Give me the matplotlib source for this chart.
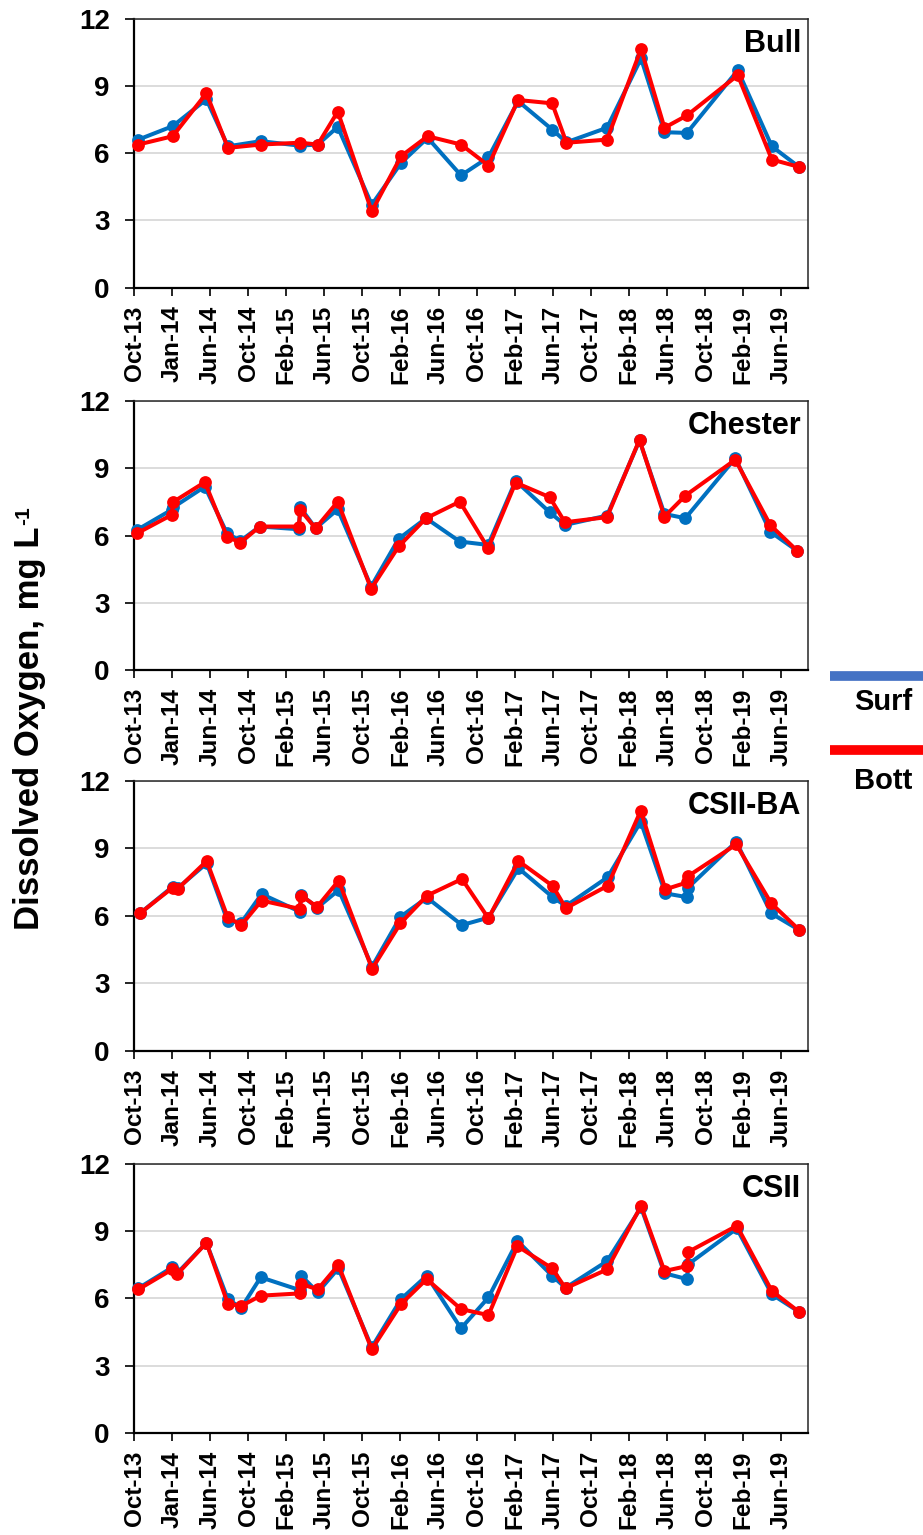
import matplotlib
matplotlib.use("Agg")
import matplotlib.pyplot as plt
import matplotlib.dates as mdates
from matplotlib.lines import Line2D
import pandas as pd

plt.rcParams['font.family'] = ['Liberation Sans', 'DejaVu Sans']
plt.rcParams['font.weight'] = 'bold'

# ---- data: dissolved oxygen (mg/L), surface and bottom, per station ----
bull_dates = ['2013-10-15', '2014-02-02', '2014-05-21', '2014-07-29', '2014-11-11',
              '2015-03-16', '2015-05-13', '2015-07-16', '2015-11-02', '2016-02-04',
              '2016-04-29', '2016-08-14', '2016-11-10', '2017-02-13', '2017-06-02',
              '2017-07-18', '2017-11-25', '2018-03-14', '2018-05-28', '2018-08-08',
              '2019-01-18', '2019-05-07', '2019-08-02']
bull_surf = [6.61, 7.21, 8.41, 6.31, 6.54, 6.34, 6.39, 7.18, 3.70, 5.57, 6.69, 5.01,
             5.82, 8.33, 7.06, 6.49, 7.14, 10.24, 6.94, 6.91, 9.71, 6.31, 5.39]
bull_bott = [6.39, 6.76, 8.68, 6.24, 6.39, 6.47, 6.39, 7.86, 3.40, 5.87, 6.76, 6.39,
             5.45, 8.38, 8.23, 6.47, 6.61, 10.66, 7.14, 7.69, 9.49, 5.72, 5.39]

chester_dates = ['2013-10-11', '2014-01-30', '2014-02-03', '2014-05-16', '2014-07-26',
                 '2014-09-07', '2014-11-08', '2015-03-13', '2015-03-18', '2015-05-06',
                 '2015-07-16', '2015-10-31', '2016-01-27', '2016-04-24', '2016-08-10',
                 '2016-11-09', '2017-02-05', '2017-05-25', '2017-07-13', '2017-11-25',
                 '2018-03-09', '2018-05-28', '2018-08-03', '2019-01-10', '2019-05-02',
                 '2019-07-28']
chester_surf = [6.25, 7.15, 7.25, 8.18, 6.10, 5.76, 6.40, 6.28, 7.25, 6.32, 7.17, 3.72,
                5.85, 6.77, 5.73, 5.58, 8.44, 7.04, 6.47, 6.89, 10.24, 6.96, 6.77, 9.45,
                6.17, 5.31]
chester_bott = [6.10, 6.92, 7.49, 8.38, 5.95, 5.68, 6.40, 6.40, 7.14, 6.32, 7.51, 3.62,
                5.51, 6.77, 7.51, 5.43, 8.36, 7.71, 6.59, 6.82, 10.27, 6.84, 7.78, 9.38,
                6.47, 5.31]

csiiba_dates = ['2013-10-20', '2014-02-02', '2014-02-18', '2014-05-22', '2014-07-28',
                '2014-09-10', '2014-11-14', '2015-03-16', '2015-03-21', '2015-05-11',
                '2015-07-19', '2015-11-03', '2016-02-02', '2016-04-27', '2016-08-17',
                '2016-11-10', '2017-02-14', '2017-06-04', '2017-07-16', '2017-11-27',
                '2018-03-13', '2018-05-31', '2018-08-09', '2018-08-12', '2019-01-13',
                '2019-05-05', '2019-08-03']
csiiba_surf = [6.11, 7.30, 7.23, 8.34, 5.77, 5.70, 6.97, 6.19, 6.93, 6.36, 7.15, 3.74,
               5.96, 6.81, 5.59, 5.92, 8.12, 6.83, 6.44, 7.72, 10.19, 7.00, 6.83, 7.26,
               9.30, 6.11, 5.37]
csiiba_bott = [6.11, 7.26, 7.20, 8.44, 5.94, 5.59, 6.68, 6.31, 6.90, 6.40, 7.57, 3.64,
               5.67, 6.90, 7.64, 5.89, 8.44, 7.33, 6.34, 7.34, 10.68, 7.18, 7.49, 7.77,
               9.18, 6.56, 5.37]

csii_dates = ['2013-10-15', '2014-01-31', '2014-02-16', '2014-05-21', '2014-07-29',
              '2014-09-10', '2014-11-11', '2015-03-16', '2015-03-21', '2015-05-13',
              '2015-07-18', '2015-11-02', '2016-02-04', '2016-04-26', '2016-08-14',
              '2016-11-10', '2017-02-11', '2017-06-02', '2017-07-15', '2017-11-25',
              '2018-03-14', '2018-05-28', '2018-08-08', '2018-08-13', '2019-01-15',
              '2019-05-07', '2019-08-02']
csii_surf = [6.45, 7.38, 7.12, 8.48, 5.95, 5.58, 6.94, 6.37, 7.01, 6.27, 7.34, 3.81,
             5.97, 7.01, 4.66, 6.04, 8.56, 7.01, 6.47, 7.66, 10.06, 7.12, 6.86, 7.53,
             9.12, 6.18, 5.40]
csii_bott = [6.40, 7.29, 7.07, 8.48, 5.75, 5.66, 6.12, 6.22, 6.64, 6.40, 7.49, 3.72,
             5.75, 6.86, 5.52, 5.25, 8.33, 7.34, 6.45, 7.29, 10.13, 7.22, 7.44, 8.08,
             9.24, 6.33, 5.40]

station_names = ['Bull', 'Chester', 'CSII-BA', 'CSII']
series_names = ['Surf', 'Bott']

tick_labels = ['Oct-13', 'Jan-14', 'Jun-14', 'Oct-14', 'Feb-15', 'Jun-15', 'Oct-15',
               'Feb-16', 'Jun-16', 'Oct-16', 'Feb-17', 'Jun-17', 'Oct-17', 'Feb-18',
               'Jun-18', 'Oct-18', 'Feb-19', 'Jun-19']
y_ticks = [0, 3, 6, 9, 12]

stations = [
    (bull_dates, bull_surf, bull_bott),
    (chester_dates, chester_surf, chester_bott),
    (csiiba_dates, csiiba_surf, csiiba_bott),
    (csii_dates, csii_surf, csii_bott),
]

# ---- styling ----
SURF_COLOR = '#0070C0'
BOTT_COLOR = '#FF0000'
SURF_KEY_COLOR = '#4472C4'
GRID_COLOR = '#D9D9D9'

W, H = 923, 1535
fig = plt.figure(figsize=(W / 100, H / 100), dpi=100)

axis_start = pd.Timestamp('2013-10-01')
tick_step_days = 122
axis_end = axis_start + pd.Timedelta(days=2160)
tick_pos = [mdates.date2num(axis_start + pd.Timedelta(days=tick_step_days * k))
            for k in range(len(tick_labels))]

# panel pixel boxes: (top, bottom)
panel_px = [(19, 287.5), (401, 670), (781, 1050.7), (1164, 1432.7)]
left_px, right_px = 134, 808

for (dates, surf, bott), name, (top, bot) in zip(stations, station_names, panel_px):
    ax = fig.add_axes([left_px / W, 1 - bot / H, (right_px - left_px) / W, (bot - top) / H])
    x = mdates.date2num(pd.to_datetime(dates))
    ax.plot(x, surf, color=SURF_COLOR, lw=2.9, marker='o', ms=9.2, mew=0,
            zorder=3, clip_on=False)
    ax.plot(x, bott, color=BOTT_COLOR, lw=2.9, marker='o', ms=9.2, mew=0,
            zorder=4, clip_on=False)

    ax.set_xlim(mdates.date2num(axis_start), mdates.date2num(axis_end))
    ax.set_ylim(0, 12)
    ax.set_yticks(y_ticks)
    ax.set_yticklabels([str(v) for v in y_ticks])
    ax.set_xticks(tick_pos)
    ax.set_xticklabels(tick_labels, rotation=90)

    ax.yaxis.grid(True, color=GRID_COLOR, lw=1.3)
    ax.set_axisbelow(True)

    ax.tick_params(axis='y', direction='out', length=6.5, width=1.2, pad=11,
                   labelsize=20, colors='black')
    ax.tick_params(axis='x', direction='out', length=6, width=1.2, pad=7,
                   labelsize=17.5, colors='black')
    for lab in ax.get_xticklabels() + ax.get_yticklabels():
        lab.set_fontweight('bold')

    for side in ['left', 'bottom']:
        ax.spines[side].set_linewidth(1.6)
        ax.spines[side].set_color('black')
    for side in ['top', 'right']:
        ax.spines[side].set_linewidth(1.1)
        ax.spines[side].set_color('#262626')

    ax.text(0.99, 0.877, name, transform=ax.transAxes, ha='right', va='baseline',
            fontsize=22, fontweight='bold')

# shared y-axis title with a raised "-1" exponent
ylab = fig.text(30 / W, 1 - 728 / H, 'Dissolved Oxygen, mg L',
                rotation=90, ha='center', va='center', fontsize=25, fontweight='bold')
fig.canvas.draw()
bb = ylab.get_window_extent(renderer=fig.canvas.get_renderer())
fig.text(14 / W, (bb.y1 + 1) / H, '-1', rotation=90, ha='left', va='bottom',
         fontsize=15, fontweight='bold')

# key
for (name, color, line_y, text_y) in [(series_names[0], SURF_KEY_COLOR, 676, 702.5),
                                      (series_names[1], BOTT_COLOR, 750, 781.5)]:
    fig.add_artist(Line2D([830 / W, 923 / W], [1 - line_y / H, 1 - line_y / H],
                          transform=fig.transFigure, color=color, lw=7,
                          solid_capstyle='butt'))
    fig.text(883 / W, 1 - text_y / H, name, ha='center', va='center',
             fontsize=21, fontweight='bold')

fig.savefig('out.png', dpi=100)
